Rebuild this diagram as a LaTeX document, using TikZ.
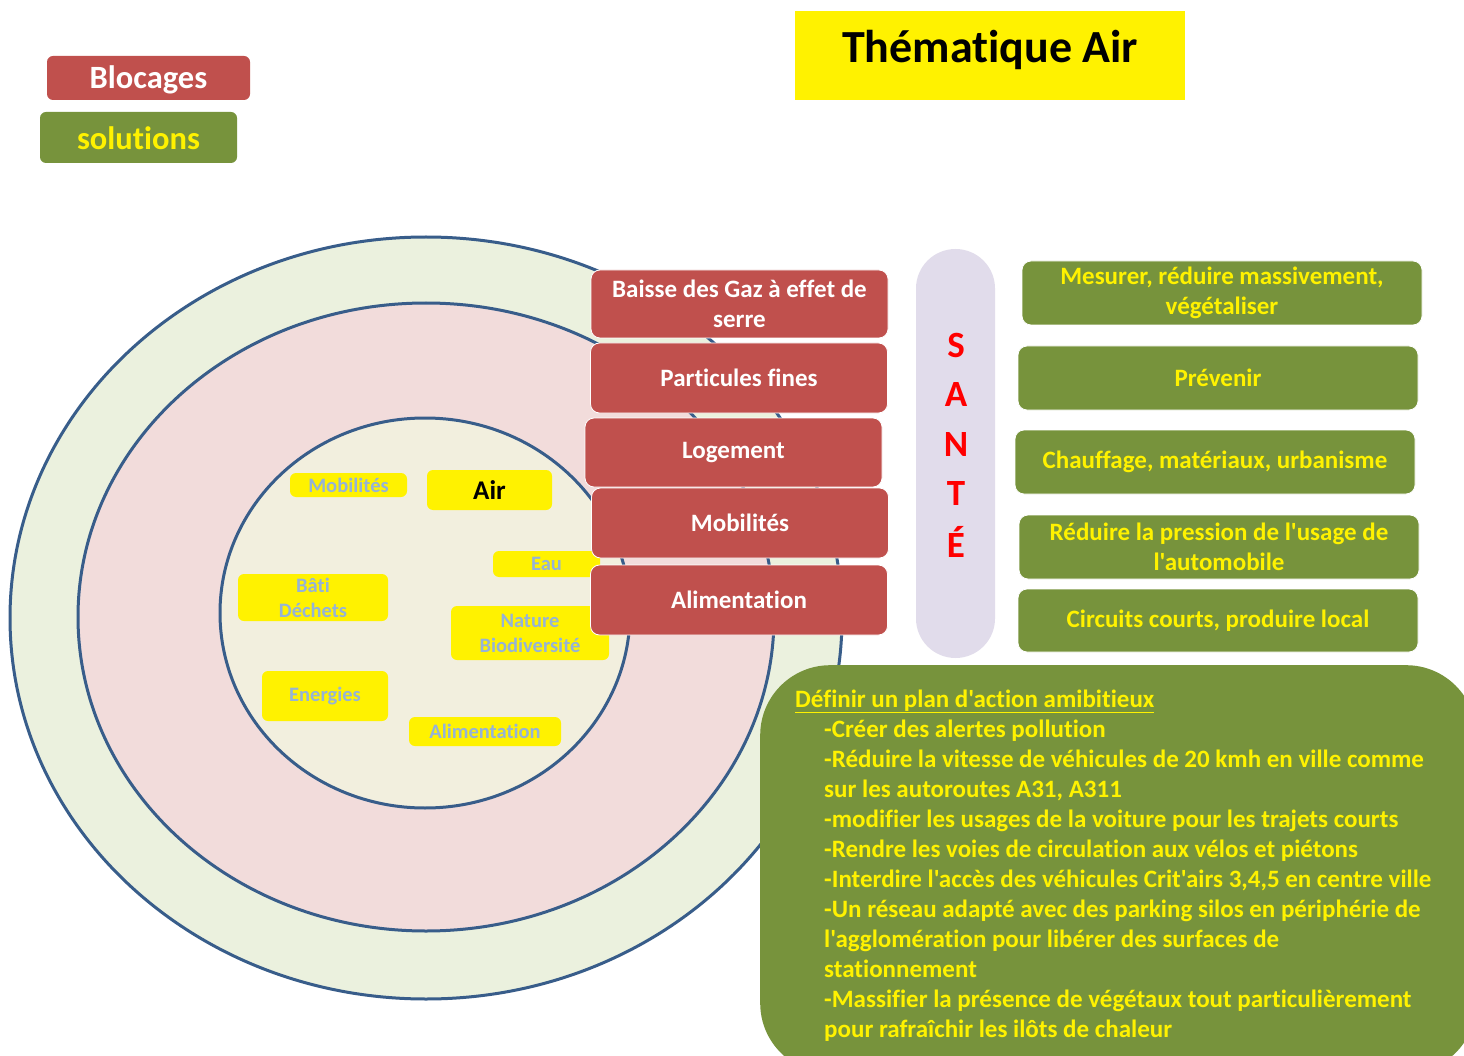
\documentclass[tikz,border=0pt]{standalone}
\usepackage{fontspec}
\setmainfont{Carlito}[Ligatures={TeXOff,CommonOff}]
\definecolor{blockred}{HTML}{C0504D}
\definecolor{solgreen}{HTML}{77933C}
\definecolor{ringblue}{HTML}{385D8A}
\definecolor{outerfill}{HTML}{EBF1DE}
\definecolor{midfill}{HTML}{F2DCDB}
\definecolor{innerfill}{HTML}{F2EFDE}
\definecolor{pillfill}{HTML}{E1DCEB}
\definecolor{themeblue}{HTML}{95B3D7}
\definecolor{santered}{HTML}{FF0000}
\begin{document}
\begin{tikzpicture}[x=1pt,y=-1pt,
  ring/.style={draw=ringblue, line width=3pt},
  blocage/.style={rectangle, rounded corners=9pt, fill=blockred, draw=white, line width=0.8pt,
    text=white, minimum width=297pt, minimum height=69pt, inner sep=0pt, align=center,
    font=\bfseries\fontsize{25}{30}\selectfont},
  solution/.style={rectangle, rounded corners=9pt, fill=solgreen, draw=white, line width=0.8pt,
    text=yellow, minimum width=400pt, minimum height=64pt, inner sep=0pt, align=center,
    font=\bfseries\fontsize{25}{30}\selectfont},
  theme/.style={rectangle, rounded corners=6pt, fill=yellow, text=themeblue, inner sep=0pt,
    align=center, font=\bfseries\fontsize{20.5}{25}\selectfont},
  letter/.style={text=santered, font=\bfseries\fontsize{37}{40}\selectfont, anchor=center},
  planline/.style={anchor=base west, inner sep=0pt, text=yellow,
    font=\bfseries\fontsize{25}{30}\selectfont}
]
\useasboundingbox (0,0) rectangle (1464,1056);
\clip (0,0) rectangle (1464,1056);
\fill[white] (0,0) rectangle (1464,1056);

% legend
\node[rectangle, rounded corners=6pt, fill=blockred, minimum width=203pt, minimum height=44pt]
  (legblock) at (148.5,78) {};
\node[anchor=base, inner sep=0pt, text=white, font=\bfseries\fontsize{32.5}{34}\selectfont]
  (legblocktext) at (148.5,89) {Blocages};
\node[rectangle, rounded corners=6pt, fill=solgreen, minimum width=197pt, minimum height=51pt]
  (legsol) at (138.5,137.5) {};
\node[anchor=base, inner sep=0pt, text=yellow, font=\bfseries\fontsize{32.5}{34}\selectfont]
  (legsoltext) at (138.5,150) {solutions};

% title
\node[rectangle, fill=yellow, minimum width=390pt, minimum height=89pt] (titlebox) at (990,55.5) {};
\node[anchor=base, inner sep=0pt, font=\bfseries\fontsize{46}{50}\selectfont] (title) at (990,63) {Thématique Air};

% concentric rings
\draw[ring, fill=outerfill] (426,618) ellipse [x radius=416pt, y radius=381pt];
\draw[ring, fill=midfill] (426,617) ellipse [x radius=348pt, y radius=314pt];
\draw[ring, fill=innerfill] (425,613) ellipse [x radius=205pt, y radius=195pt];

% themes in the core
\node[theme, minimum width=117pt, minimum height=24pt] (tmob) at (348.5,485) {Mobilités};
\node[theme, minimum width=125pt, minimum height=40pt, text=black,
  font=\bfseries\fontsize{27}{30}\selectfont] (tair) at (489.5,490) {Air};
\node[theme, minimum width=107pt, minimum height=26pt] (teau) at (546.5,564) {Eau};
\node[theme, minimum width=150pt, minimum height=47pt] (tbati) at (313,597.5) {Bâti\\Déchets};
\node[theme, minimum width=158pt, minimum height=54pt] (tnat) at (530,633) {Nature\\Biodiversité};
\node[theme, minimum width=126pt, minimum height=50pt] (tener) at (325,696) {Energies};
\node[theme, minimum width=152pt, minimum height=29pt] (talim) at (485,731.5) {Alimentation};

% blocking points
\node[blocage, minimum height=68pt] (bgaz) at (739.5,304) {Baisse des Gaz à effet de\\serre};
\node[blocage, minimum height=70pt] (bpart) at (739,378) {Particules fines};
\node[blocage] (blog) at (733.5,452.5) {Logement};
\node[blocage, minimum height=70pt] (bmob) at (740,523) {Mobilités};
\node[blocage, minimum height=70pt] (balim) at (739,600) {Alimentation};

% health pillar
\node[rectangle, rounded corners=39.5pt, fill=pillfill, minimum width=79pt, minimum height=409pt,
  inner sep=0pt] (sante) at (955.5,453.5) {};
\foreach \l/\yy [count=\i] in {S/345,A/395,N/445,T/494,É/542}
  \node[letter] (s\i) at (956,\yy) {\l};

% solutions
\node[solution] (smes) at (1222,293) {Mesurer, réduire massivement,\\végétaliser};
\node[solution] (sprev) at (1218,378) {Prévenir};
\node[solution] (schauf) at (1215,462) {Chauffage, matériaux, urbanisme};
\node[solution] (sred) at (1219,547) {Réduire la pression de l'usage de\\l'automobile};
\node[solution, minimum height=63pt] (scirc) at (1218,620.5) {Circuits courts, produire local};

% action plan
\node[rectangle, rounded corners=70pt, fill=solgreen, minimum width=716pt, minimum height=408pt,
  anchor=north west, inner sep=0pt] (plan) at (760,665) {};
\node[planline] (ptitle) at (795,707) {\underline{Définir un plan d'action amibitieux}};
\foreach \t [count=\i] in {
  {-Créer des alertes pollution},
  {-Réduire la vitesse de véhicules de 20 kmh en ville comme},
  {sur les autoroutes A31, A311},
  {-modifier les usages de la voiture pour les trajets courts},
  {-Rendre les voies de circulation aux vélos et piétons},
  {-Interdire l'accès des véhicules Crit'airs 3,4,5 en centre ville},
  {-Un réseau adapté avec des parking silos en périphérie de},
  {l'agglomération pour libérer des surfaces de},
  {stationnement},
  {-Massifier la présence de végétaux tout particulièrement},
  {pour rafraîchir les ilôts de chaleur}}
  \node[planline] (pl\i) at (824,707+30*\i) {\t};
\end{tikzpicture}
\end{document}
